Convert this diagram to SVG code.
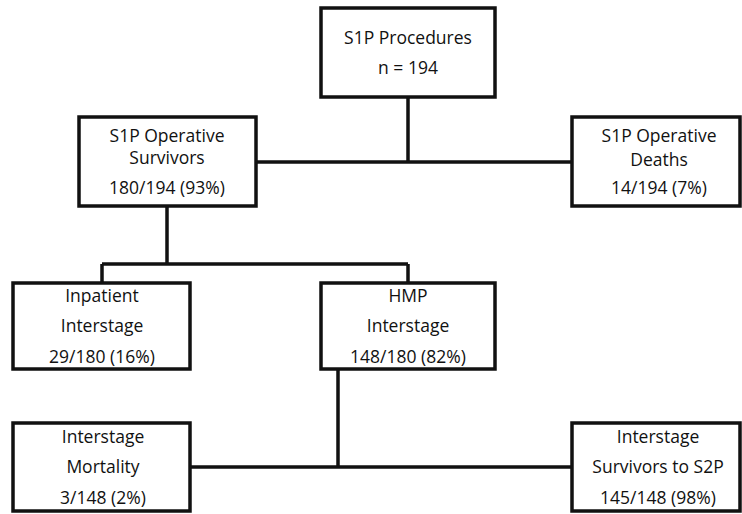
<svg xmlns="http://www.w3.org/2000/svg" width="742" height="514" viewBox="0 0 742 514">
<style>
.box{fill:#fff;stroke:#111;stroke-width:3.5}
.t{font-family:"Open Sans","Noto Sans","Liberation Sans",sans-serif;font-size:17.5px;fill:#111;text-anchor:middle}
.c{fill:none;stroke:#111;stroke-width:3.5}
</style>
<rect width="742" height="514" fill="#fff"/>
<g id="connectors">
<path class="c" d="M408,97 V162 M256,162 H572"/>
<path class="c" d="M167,206 V264 M102,264 H408 M102,264 V283 M408,264 V283"/>
<path class="c" d="M338,369 V467 M190,467 H572"/>
</g>
<g id="n1">
<rect class="box" x="321" y="8" width="174" height="89"/>
<text class="t" x="408" y="44">S1P Procedures</text>
<text class="t" x="408" y="74">n = 194</text>
</g>
<g id="n2">
<rect class="box" x="79" y="117" width="177" height="89"/>
<text class="t" x="167" y="142">S1P Operative</text>
<text class="t" x="167" y="164">Survivors</text>
<text class="t" x="167" y="194">180/194 (93%)</text>
</g>
<g id="n3">
<rect class="box" x="572" y="117" width="168" height="89"/>
<text class="t" x="659" y="142">S1P Operative</text>
<text class="t" x="659" y="166">Deaths</text>
<text class="t" x="659" y="194">14/194 (7%)</text>
</g>
<g id="n4">
<rect class="box" x="13" y="283" width="177" height="86"/>
<text class="t" x="102" y="302">Inpatient</text>
<text class="t" x="102" y="332">Interstage</text>
<text class="t" x="102" y="363">29/180 (16%)</text>
</g>
<g id="n5">
<rect class="box" x="321" y="283" width="174" height="86"/>
<text class="t" x="408" y="302">HMP</text>
<text class="t" x="408" y="332">Interstage</text>
<text class="t" x="408" y="363">148/180 (82%)</text>
</g>
<g id="n6">
<rect class="box" x="13" y="423" width="177" height="88"/>
<text class="t" x="103" y="443">Interstage</text>
<text class="t" x="103" y="473">Mortality</text>
<text class="t" x="103" y="504">3/148 (2%)</text>
</g>
<g id="n7">
<rect class="box" x="572" y="423" width="168" height="88"/>
<text class="t" x="658" y="443">Interstage</text>
<text class="t" x="658" y="473">Survivors to S2P</text>
<text class="t" x="658" y="504">145/148 (98%)</text>
</g>
</svg>
